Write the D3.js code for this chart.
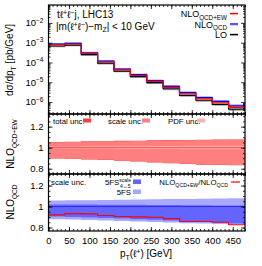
<!DOCTYPE html>
<html>
<head>
<script src="https://cdn.jsdelivr.net/npm/d3@7"></script>
<style>
body{margin:0;background:#fff}
text{font-family:"Liberation Sans Narrow","Liberation Sans",Arial,sans-serif;fill:#000}
</style>
</head>
<body>
<script>
var width = 262, height = 266;

// bin edges of pT(l+) [GeV]
var edges = [0, 40, 80, 120, 160, 200, 240, 280, 320, 360, 400, 440, 480];
// dsigma/dpT [pb/GeV]
var nloEW  = [7.7e-4, 8.6e-4, 2.85e-4, 1.06e-4, 4.2e-5, 2.2e-5, 1.1e-5, 5.5e-6, 2.6e-6, 1.45e-6, 9.2e-7, 5.4e-7];
var nloQCD = [8.4e-4, 9.2e-4, 3.06e-4, 1.16e-4, 4.64e-5, 2.44e-5, 1.22e-5, 6.2e-6, 3.03e-6, 1.69e-6, 1.08e-6, 6.5e-7];
var lo     = [6.8e-4, 7.6e-4, 2.5e-4, 9.3e-5, 3.7e-5, 1.95e-5, 9.6e-6, 4.7e-6, 2.2e-6, 1.24e-6, 7.7e-7, 4.4e-7];
var nloQCDup = [9.6e-4, 1.05e-3, 3.5e-4, 1.33e-4, 5.3e-5, 2.8e-5, 1.4e-5, 7.2e-6, 3.5e-6, 1.98e-6, 1.27e-6, 7.7e-7];
var loDown   = [5.9e-4, 6.6e-4, 2.17e-4, 8.0e-5, 3.2e-5, 1.68e-5, 8.3e-6, 4.0e-6, 1.88e-6, 1.05e-6, 6.5e-7, 3.7e-7];
// NLO_QCD+EW ratio bands
var totHi = [1.055, 1.057, 1.060, 1.062, 1.065, 1.067, 1.070, 1.072, 1.074, 1.076, 1.077, 1.078];
var totLo = [0.897, 0.893, 0.888, 0.882, 0.875, 0.868, 0.860, 0.852, 0.845, 0.838, 0.835, 0.833];
var scHi  = [1.052, 1.054, 1.057, 1.059, 1.062, 1.064, 1.067, 1.069, 1.071, 1.073, 1.074, 1.075];
var scLo  = [0.900, 0.896, 0.891, 0.885, 0.878, 0.871, 0.863, 0.855, 0.848, 0.841, 0.838, 0.836];
var pdfHi = [1.012, 1.012, 1.013, 1.013, 1.014, 1.014, 1.015, 1.015, 1.016, 1.016, 1.017, 1.017];
var pdfLo = [0.990, 0.990, 0.989, 0.989, 0.988, 0.988, 0.987, 0.987, 0.986, 0.986, 0.985, 0.985];
// NLO_QCD ratio bands
var fsHi  = [1.057, 1.059, 1.061, 1.063, 1.065, 1.067, 1.069, 1.071, 1.073, 1.075, 1.077, 1.080];
var fsLo  = [0.880, 0.877, 0.872, 0.867, 0.862, 0.857, 0.852, 0.847, 0.842, 0.838, 0.834, 0.830];
var fs45Hi = [1.020, 1.020, 1.019, 1.018, 1.017, 1.016, 1.015, 1.014, 1.013, 1.012, 1.011, 1.010];
var fs45Lo = [0.905, 0.900, 0.895, 0.890, 0.885, 0.879, 0.873, 0.866, 0.859, 0.852, 0.845, 0.838];
var ratioEW = [0.921, 0.933, 0.930, 0.914, 0.905, 0.902, 0.898, 0.885, 0.857, 0.857, 0.851, 0.826];

var yMain = [1e-6, 1e-5, 1e-4, 1e-3, 1e-2];
var yMainLab = ["\u22126", "\u22125", "\u22124", "\u22123", "\u22122"];
var yRatio = [0.8, 1, 1.2];
var xTicks = [0, 50, 100, 150, 200, 250, 300, 350, 400, 450];

var L = 48.5, R = 245;
var x = d3.scaleLinear().domain([0, 480]).range([L, R]);
var y1 = d3.scaleLog().domain([2.5e-7, 0.08]).range([114, 5]);
var y2 = d3.scaleLinear().domain([0.75, 1.32]).range([174, 114]);
var y3 = d3.scaleLinear().domain([0.767, 1.31]).range([231, 174]);

var svg = d3.select('body').append('svg')
	.attr('width', width).attr('height', height);

function clip(id, top, bottom){
	svg.append('clipPath').attr('id', id).append('rect')
		.attr('x', L).attr('y', top).attr('width', R - L).attr('height', bottom - top);
	return svg.append('g').attr('clip-path', 'url(#' + id + ')');
}
function pts(vals){
	return edges.map(function(e, i){ return [e, vals[Math.min(i, vals.length - 1)]]; });
}
function band(g, y, lo, hi, color){
	var a = d3.area().curve(d3.curveStepAfter)
		.x(function(d){ return x(d[0]); })
		.y0(function(d){ return y(d[1]); })
		.y1(function(d){ return y(d[2]); });
	var data = edges.map(function(e, i){ var k = Math.min(i, lo.length - 1); return [e, lo[k], hi[k]]; });
	g.append('path').attr('d', a(data)).attr('fill', color);
}
function step(g, y, vals, color, w){
	var l = d3.line().curve(d3.curveStepAfter)
		.x(function(d){ return x(d[0]); })
		.y(function(d){ return y(d[1]); });
	g.append('path').attr('d', l(pts(vals))).attr('fill', 'none')
		.attr('stroke', color).attr('stroke-width', w || 1.2);
}

// main panel
var g1 = clip('c1', 5, 114);
band(g1, y1, nloQCD, nloQCDup, '#a8a8ff');
band(g1, y1, loDown, lo, '#a0a0a0');
band(g1, y1, nloEW, nloQCD, '#ffa0a0');
step(g1, y1, lo, '#000');
step(g1, y1, nloQCD, '#0000ff');
step(g1, y1, nloEW, '#ff0000');

// ratio panel NLO_QCD+EW
var g2 = clip('c2', 114, 174);
band(g2, y2, totLo, totHi, '#ff3c3c');
band(g2, y2, scLo, scHi, '#ff7f7f');
band(g2, y2, pdfLo, pdfHi, '#ffb0b0');
g2.append('line').attr('x1', L).attr('x2', R).attr('y1', y2(1)).attr('y2', y2(1))
	.attr('stroke', '#ff3030').attr('stroke-width', 0.8);

// ratio panel NLO_QCD
var g3 = clip('c3', 174, 231);
band(g3, y3, fsLo, fsHi, '#a8a8ff');
band(g3, y3, fs45Lo, fs45Hi, '#6464ff');
g3.append('line').attr('x1', L).attr('x2', R).attr('y1', y3(1)).attr('y2', y3(1))
	.attr('stroke', '#2020e0').attr('stroke-width', 0.8);
step(g3, y3, ratioEW, '#ff0000', 1.1);

// axes
var minorX = d3.range(0, 481, 10);
function frame(y, top, bottom, majors, minors, labels, showX){
	svg.append('g').attr('transform', 'translate(0,' + bottom + ')')
		.call(d3.axisBottom(x).tickValues(minorX).tickSize(-2).tickFormat(''))
		.call(function(a){ a.select('.domain').remove(); });
	svg.append('g').attr('transform', 'translate(0,' + bottom + ')')
		.call(d3.axisBottom(x).tickValues(xTicks).tickSize(-4).tickPadding(6)
			.tickFormat(showX ? d3.format('d') : ''))
		.call(function(a){ a.select('.domain').remove(); a.selectAll('text').attr('font-size', 9.5).attr('font-family', null); });
	svg.append('g').attr('transform', 'translate(0,' + top + ')')
		.call(d3.axisTop(x).tickValues(minorX).tickSize(-2).tickFormat(''))
		.call(function(a){ a.select('.domain').remove(); });
	svg.append('g').attr('transform', 'translate(0,' + top + ')')
		.call(d3.axisTop(x).tickValues(xTicks).tickSize(-4).tickFormat(''))
		.call(function(a){ a.select('.domain').remove(); });
	[[L, d3.axisLeft], [R, d3.axisRight]].forEach(function(s){
		svg.append('g').attr('transform', 'translate(' + s[0] + ',0)')
			.call(s[1](y).tickValues(minors).tickSize(-2).tickFormat(''))
			.call(function(a){ a.select('.domain').remove(); });
		svg.append('g').attr('transform', 'translate(' + s[0] + ',0)')
			.call(s[1](y).tickValues(majors).tickSize(-4).tickFormat(''))
			.call(function(a){ a.select('.domain').remove(); });
	});
	svg.append('rect').attr('x', L).attr('y', top).attr('width', R - L).attr('height', bottom - top)
		.attr('fill', 'none').attr('stroke', '#000').attr('stroke-width', 1.2);
	var lab = svg.append('g').attr('font-size', 9.5).attr('text-anchor', 'end');
	majors.forEach(function(v, i){
		var t = lab.append('text').attr('x', L - 5).attr('y', y(v) + 3.3);
		if (labels){
			t.append('tspan').text('10');
			t.append('tspan').attr('dy', -3.5).attr('font-size', 6.5).text(labels[i]);
		} else {
			t.text(v === 1 ? '1' : d3.format('.1f')(v));
		}
	});
	svg.selectAll('.tick line').attr('stroke', '#000').attr('stroke-width', 0.8);
}
var mainMinors = [];
[-7, -6, -5, -4, -3, -2].forEach(function(p){
	d3.range(2, 10).forEach(function(m){
		var v = m * Math.pow(10, p);
		if (v > 2.5e-7 && v < 0.08) mainMinors.push(v);
	});
});
frame(y1, 5, 114, yMain, mainMinors, yMainLab, false);
frame(y2, 114, 174, yRatio, d3.range(0.75, 1.32, 0.05), null, false);
frame(y3, 174, 231, yRatio, d3.range(0.8, 1.31, 0.05), null, true);

// axis titles
function sub(t, main, s, fs){
	t.append('tspan').text(main);
	t.append('tspan').attr('font-size', fs).attr('dy', 2.5).text(s);
}
var t1 = svg.append('text').attr('transform', 'translate(13,60) rotate(-90)')
	.attr('text-anchor', 'middle').attr('font-size', 10);
t1.append('tspan').text('d\u03c3/dp');
t1.append('tspan').attr('font-size', 7).attr('dy', 2.5).text('T');
t1.append('tspan').attr('dy', -2.5).text(' [pb/GeV]');
var t2 = svg.append('text').attr('transform', 'translate(14,144) rotate(-90)')
	.attr('text-anchor', 'middle').attr('font-size', 10);
sub(t2, 'NLO', 'QCD+EW', 6.5);
var t3 = svg.append('text').attr('transform', 'translate(14,202) rotate(-90)')
	.attr('text-anchor', 'middle').attr('font-size', 10);
sub(t3, 'NLO', 'QCD', 6.5);
var tx = svg.append('text').attr('x', 146).attr('y', 257).attr('text-anchor', 'middle').attr('font-size', 10);
tx.append('tspan').text('p');
tx.append('tspan').attr('font-size', 7).attr('dy', 2.5).text('T');
tx.append('tspan').attr('dy', -2.5).text('(\u2113');
tx.append('tspan').attr('font-size', 7).attr('dy', -3.5).text('+');
tx.append('tspan').attr('dy', 3.5).text(') [GeV]');

// main labels
var a1 = svg.append('text').attr('x', 57).attr('y', 18).attr('font-size', 10);
a1.append('tspan').text('t\u2113');
a1.append('tspan').attr('font-size', 7).attr('dy', -3.5).text('+');
a1.append('tspan').attr('dy', 3.5).text('\u2113');
a1.append('tspan').attr('font-size', 7).attr('dy', -3.5).text('\u2212');
a1.append('tspan').attr('dy', 3.5).text('j, LHC13');
var a2 = svg.append('text').attr('x', 56).attr('y', 30).attr('font-size', 10);
a2.append('tspan').text('|m(\u2113');
a2.append('tspan').attr('font-size', 7).attr('dy', -3.5).text('+');
a2.append('tspan').attr('dy', 3.5).text('\u2113');
a2.append('tspan').attr('font-size', 7).attr('dy', -3.5).text('\u2212');
a2.append('tspan').attr('dy', 3.5).text(')\u2212m');
a2.append('tspan').attr('font-size', 7).attr('dy', 2).text('Z');
a2.append('tspan').attr('dy', -2).text('| < 10 GeV');

// main legend
var leg = [['NLO', 'QCD+EW', '#ff0000', '#ffa0a0', 17], ['NLO', 'QCD', '#0000ff', '#a8a8ff', 27.5], ['LO', '', '#000', '#a0a0a0', 38]];
leg.forEach(function(d){
	var t = svg.append('text').attr('x', 227).attr('y', d[4]).attr('text-anchor', 'end').attr('font-size', 9);
	sub(t, d[0], d[1], 6.3);
	svg.append('rect').attr('x', 230).attr('y', d[4] - 4.5).attr('width', 8).attr('height', 2.5).attr('fill', d[3]);
	svg.append('line').attr('x1', 230).attr('x2', 238).attr('y1', d[4] - 3.5).attr('y2', d[4] - 3.5)
		.attr('stroke', d[2]).attr('stroke-width', 1);
});

// ratio legend 1
var leg2 = [['total unc.', 53, 83, '#ff3c3c'], ['scale unc.', 108, 142, '#ff7f7f'], ['PDF unc.', 168, 197, '#ffb0b0']];
leg2.forEach(function(d){
	svg.append('text').attr('x', d[1]).attr('y', 124).attr('font-size', 7.8).text(d[0]);
	svg.append('rect').attr('x', d[2]).attr('y', 118.5).attr('width', 8).attr('height', 4).attr('fill', d[3]);
});

// ratio legend 2
svg.append('text').attr('x', 51).attr('y', 185).attr('font-size', 7.8).text('scale unc.');
var f1 = svg.append('text').attr('x', 131).attr('y', 185).attr('text-anchor', 'end').attr('font-size', 7.8);
f1.append('tspan').text('5FS');
f1.append('tspan').attr('font-size', 5).attr('dy', -3.5).text('scale');
f1.append('tspan').attr('font-size', 5).attr('dx', -11).attr('dy', 6).text('4\u21945');
svg.append('rect').attr('x', 133).attr('y', 179.5).attr('width', 8).attr('height', 4.5).attr('fill', '#6464ff');
svg.append('text').attr('x', 131).attr('y', 195).attr('text-anchor', 'end').attr('font-size', 7.8).text('5FS');
svg.append('rect').attr('x', 133).attr('y', 189.5).attr('width', 8).attr('height', 4.5).attr('fill', '#a8a8ff');
var f2 = svg.append('text').attr('x', 228).attr('y', 185).attr('text-anchor', 'end').attr('font-size', 7.8);
f2.append('tspan').text('NLO');
f2.append('tspan').attr('font-size', 5.2).attr('dy', 2).text('QCD+EW');
f2.append('tspan').attr('dy', -2).text('/NLO');
f2.append('tspan').attr('font-size', 5.2).attr('dy', 2).text('QCD');
svg.append('line').attr('x1', 231).attr('x2', 240).attr('y1', 182).attr('y2', 182)
	.attr('stroke', '#ff0000').attr('stroke-width', 1.2);
</script>
</body>
</html>
